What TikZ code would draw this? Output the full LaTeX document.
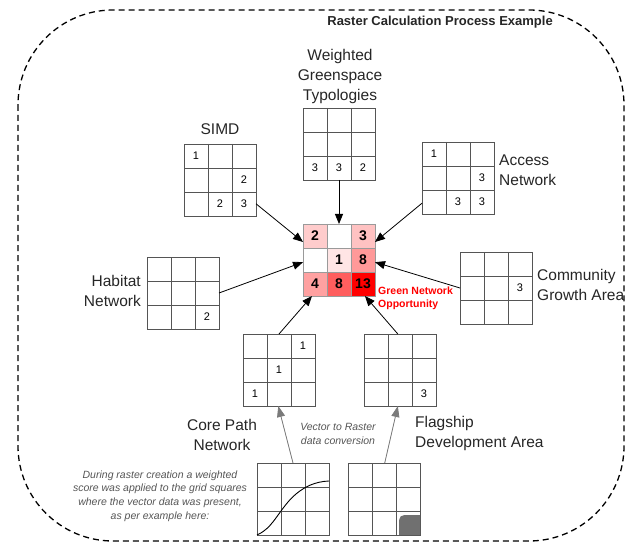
\documentclass[tikz,border=0pt]{standalone}
\usepackage{fontspec}
\setmainfont{Liberation Sans}
\usetikzlibrary{arrows.meta,calc}
\definecolor{gridline}{HTML}{555555}
\definecolor{cengrid}{HTML}{9A9A9A}
\definecolor{convgrey}{HTML}{7A7A7A}
\definecolor{txtgrey}{HTML}{555555}
\definecolor{blobgrey}{HTML}{707070}
\definecolor{oppred}{HTML}{FF0000}
\newcommand\mygrid[4][gridline]{%
  \node[gridbox, draw=#1] (#2) at (#3,#4) {};
  \foreach \k in {24,48} {
    \draw[#1, line width=0.8pt] ($(#2.north west)+(\k,0)$) -- ($(#2.south west)+(\k,0)$);
    \draw[#1, line width=0.8pt] ($(#2.north west)+(0,\k)$) -- ($(#2.north east)+(0,\k)$);
  }}
\newcommand\cellnum[5][num]{%
  \node[#1] (#2-#3-#4) at ($(#2.north west)+(#4*24-12,#3*24-12)$) {#5};}
\newcommand\cellfill[3]{%
  \fill[#3] (303+#2*24-24,224+#1*24-24) rectangle ++(24,24);}
\begin{document}
\begin{tikzpicture}[x=1pt,y=-1pt,
  gridbox/.style={line width=0.8pt, minimum width=72pt, minimum height=72pt, inner sep=0pt, outer sep=0pt, anchor=north west},
  lbl/.style={font=\fontsize{15.5}{20}\selectfont, inner sep=0pt, text=black!85},
  num/.style={font=\fontsize{11}{13}\selectfont, inner sep=0pt},
  bignum/.style={font=\fontsize{14}{16}\selectfont\bfseries, inner sep=0pt},
  link/.style={-{Triangle[length=10pt,width=8pt]}, line width=0.8pt},
  conv/.style={-{Triangle[length=11pt,width=8pt]}, line width=0.8pt, draw=convgrey, fill=convgrey},
  note/.style={font=\fontsize{10.5}{13.8}\selectfont\itshape, text=txtgrey, inner sep=0pt, align=center},
]
\useasboundingbox (0,0) rectangle (629,548);
% frame
\draw[line width=1.3pt, dash pattern=on 6pt off 4pt, rounded corners=95pt] (18,10) rectangle (624,541);
\node[font=\fontsize{13}{15}\selectfont\bfseries, anchor=east, inner sep=0pt, text=black!85] (title) at (553,22) {Raster Calculation Process Example};

% centre grid fills
\cellfill{1}{1}{red!20}
\cellfill{1}{3}{red!24}
\cellfill{2}{2}{red!10}
\cellfill{2}{3}{red!40}
\cellfill{3}{1}{red!37}
\cellfill{3}{2}{red!63}
\cellfill{3}{3}{oppred}
\mygrid[cengrid]{cen}{303}{224}
\cellnum[bignum]{cen}{1}{1}{2}
\cellnum[bignum]{cen}{1}{3}{3}
\cellnum[bignum]{cen}{2}{2}{1}
\cellnum[bignum]{cen}{2}{3}{8}
\cellnum[bignum]{cen}{3}{1}{4}
\cellnum[bignum]{cen}{3}{2}{8}
\cellnum[bignum]{cen}{3}{3}{13}
\node[font=\fontsize{10.5}{13}\selectfont\bfseries, text=oppred, align=left, anchor=west, inner sep=0pt] (opp) at (378,298) {Green Network\\Opportunity};

% input grids
\mygrid{wgt}{303}{108}
\cellnum{wgt}{3}{1}{3}\cellnum{wgt}{3}{2}{3}\cellnum{wgt}{3}{3}{2}
\node[lbl, align=center] (wgtlbl) at (340,76) {Weighted\\Greenspace\\Typologies};

\mygrid{simd}{184}{144}
\cellnum{simd}{1}{1}{1}\cellnum{simd}{2}{3}{2}\cellnum{simd}{3}{2}{2}\cellnum{simd}{3}{3}{3}
\node[lbl] (simdlbl) at (220,129) {SIMD};

\mygrid{acc}{422}{142}
\cellnum{acc}{1}{1}{1}\cellnum{acc}{2}{3}{3}\cellnum{acc}{3}{2}{3}\cellnum{acc}{3}{3}{3}
\node[lbl, align=left, anchor=west] (acclbl) at (499,170) {Access\\Network};

\mygrid{com}{460}{252}
\cellnum{com}{2}{3}{3}
\node[lbl, align=left, anchor=west] (comlbl) at (537,285) {Community\\Growth Area};

\mygrid{hab}{147}{257}
\cellnum{hab}{3}{3}{2}
\node[lbl, align=right, anchor=east] (hablbl) at (141,291) {Habitat\\Network};

\mygrid{core}{243}{334}
\cellnum{core}{1}{3}{1}\cellnum{core}{2}{2}{1}\cellnum{core}{3}{1}{1}
\node[lbl, align=center] (corelbl) at (222,435) {Core Path\\Network};

\mygrid{flag}{364}{334}
\cellnum{flag}{3}{3}{3}
\node[lbl, align=left, anchor=west] (flaglbl) at (415,433) {Flagship\\Development Area};

% vector grids
\mygrid{vecone}{257}{463}
\draw[line width=0.9pt] (vecone.south west) .. controls +(11,-5) and +(-8,11) .. ($(vecone.south west)+(24,-24)$)
  .. controls +(6,-8) and +(-28,1) .. ($(vecone.north east)+(0,18)$);
\mygrid{vectwo}{348}{463}
\fill[blobgrey] ($(vectwo.south east)+(-21,0)$) -- ++(0,-10) .. controls +(0,-10) and +(-10,0) .. ($(vectwo.south east)+(-10,-20)$) -- ($(vectwo.south east)+(0,-20)$) -- (vectwo.south east) -- cycle;

\node[note] (convlbl) at (338,434) {Vector to Raster\\data conversion};
\node[note] (desc) at (160,496) {During raster creation a weighted\\score was applied to the grid squares\\where the vector data was present,\\as per example here:};

% connectors
\draw[link] ($(simd.north east)!0.83!(simd.south east)$) -- ($(cen.north west)!0.25!(cen.south west)$);
\draw[link] (wgt.south) -- (cen.north);
\draw[link] ($(acc.north west)!0.85!(acc.south west)$) -- ($(cen.north east)!0.25!(cen.south east)$);
\draw[link] (com.west) -- ($(cen.north east)!0.53!(cen.south east)$);
\draw[link] (hab.east) -- ($(cen.north west)!0.53!(cen.south west)$);
\draw[link] (core.north) -- ($(cen.south west)!0.125!(cen.south east)$);
\draw[link] ($(flag.north west)!0.47!(flag.north east)$) -- ($(cen.south west)!0.86!(cen.south east)$);
\draw[conv] (vecone.north) -- ($(core.south west)!0.49!(core.south east)$);
\draw[conv] ($(vectwo.north west)!0.51!(vectwo.north east)$) -- ($(flag.south west)!0.47!(flag.south east)$);
\end{tikzpicture}
\end{document}
